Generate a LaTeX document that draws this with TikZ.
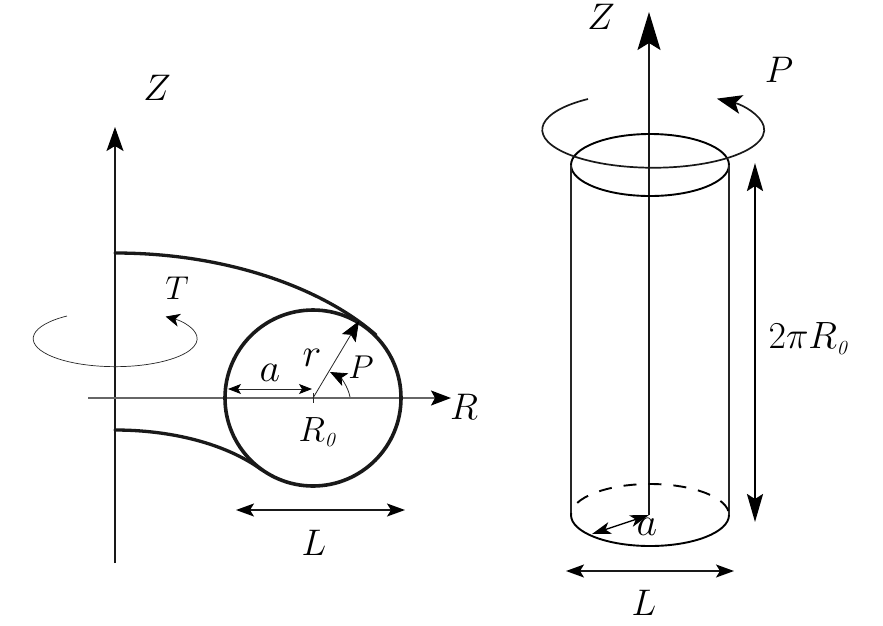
\RequirePackage{fix-cm}
\documentclass[tikz,border=0pt]{standalone}
\usetikzlibrary{arrows.meta}
\newcommand{\lbl}[1]{\fontsize{#1}{#1}\selectfont}
\newcommand{\subzero}{\hbox{\lbl{20}\itshape 0}}
\tikzset{
  thinline/.style={line width=0.8pt,black!85},
  medline/.style={line width=1.4pt,black!90},
  thickline/.style={line width=3.3pt,black!90,line cap=round},
  big/.style={font=\lbl{37}},
  mid/.style={font=\lbl{40}},
  small/.style={font=\lbl{33}}
}
\begin{document}
\begin{tikzpicture}[x=1pt,y=1pt]
\useasboundingbox (0,0) rectangle (883,-625);
\fill[white] (0,0) rectangle (883,-625);
% left figure coordinates
\coordinate (zb) at (115,-563);
\coordinate (zt) at (115,-127);
\coordinate (rl) at (88,-398);
\coordinate (rr) at (451,-398);
\coordinate (c) at (313,-398);
\coordinate (ct) at (313,-393);
\coordinate (cb) at (313,-403);
\coordinate (al) at (228,-389);
\coordinate (ar) at (312,-389);
\coordinate (rtip) at (359,-321);
\coordinate (ll) at (236,-510);
\coordinate (lr) at (405,-510);
% left figure
\draw[medline,-{Stealth[length=24pt,width=17pt,inset=5pt,color=black]}] (zb) -- (zt);
\draw[line width=1.5pt,black!60,-{Stealth[length=20pt,width=15pt,inset=4pt,color=black]}] (rl) -- (rr);
\draw[thickline,line width=3.6pt] (c) circle[radius=88];
\draw[thickline] (115,-253) .. controls (230,-253) and (325,-290) .. (376,-335);
\draw[thickline] (115,-430) .. controls (170,-430) and (225,-443) .. (262,-470);
\draw[thinline,line width=0.7pt,-{Stealth[length=14pt,width=13pt,inset=4pt,color=black]}] (67,-316) arc[start angle=126,end angle=412,x radius=82,y radius=28];
\draw[thinline,<->,>={Stealth[length=13pt,width=10pt,inset=3pt,color=black]}] (al) -- (ar);
\draw[thinline] (ct) -- (cb);
\draw[thinline,-{Stealth[length=20pt,width=16pt,inset=4pt,color=black]}] (c) -- (rtip);
\draw[thinline,-{Stealth[length=17pt,width=14pt,inset=4pt,color=black]}] (350,-397) .. controls (348,-386) and (340,-377) .. (330,-372);
\draw[medline,<->,>={Stealth[length=18pt,width=13pt,inset=4pt,color=black]}] (ll) -- (lr);
\node[big] (zl) at (157,-88) {$Z$};
\node[small] (tl) at (177,-288) {$T$};
\node[mid] (al2) at (270,-373) {$a$};
\node[mid] (rlab) at (312,-358) {$r$};
\node[small] (pl) at (361,-367) {$P$};
\node[font=\lbl{35}] (r0) at (317,-432) {$R_{\subzero}$};
\node[big] (rname) at (464,-407) {$R$};
\node[big] (lname) at (314,-543) {$L$};
% right figure coordinates
\coordinate (zb2) at (649,-515);
\coordinate (zt2) at (649,-12);
\coordinate (tc) at (650,-165);
\coordinate (tl2) at (571,-165);
\coordinate (tr2) at (729,-165);
\coordinate (bl2) at (571,-515);
\coordinate (br2) at (729,-515);
\coordinate (dt) at (755,-163);
\coordinate (db) at (755,-522);
\coordinate (at) at (592,-534);
\coordinate (ll2) at (566,-571);
\coordinate (lr2) at (734,-571);
% right figure
\draw[medline,-{Stealth[length=38pt,width=23pt,inset=7pt,color=black]}] (zb2) -- (zt2);
\draw[line width=1.9pt] (tc) ellipse[x radius=79,y radius=31];
\draw[thinline,line width=1.2pt] (tl2) -- (bl2);
\draw[thinline,line width=1.2pt] (tr2) -- (br2);
\draw[line width=1.9pt] (bl2) arc[start angle=180,end angle=360,x radius=79,y radius=31];
\draw[line width=1.9pt,dash pattern=on 13pt off 12pt,dash phase=-14pt] (bl2) arc[start angle=180,end angle=0,x radius=79,y radius=31];
\draw[line width=1.7pt,black!90,-{Stealth[length=25pt,width=19pt,inset=6pt,color=black]}] (588,-99) arc[start angle=126,end angle=415,x radius=111,y radius=38];
\draw[line width=2.4pt,<->,>={Stealth[length=28pt,width=16pt,inset=5pt]}] (dt) -- (db);
\draw[line width=1.3pt,<->,>={Stealth[length=19pt,width=12pt,inset=5pt]}] (at) -- (zb2);
\draw[medline,<->,>={Stealth[length=18pt,width=13pt,inset=4pt,color=black]}] (ll2) -- (lr2);
\node[big] (zr) at (601,-17) {$Z$};
\node[big] (pr) at (779,-70) {$P$};
\node[font=\lbl{38}] (dim) at (808,-339) {$2\pi R_{\subzero}$};
\node[mid] (ar2) at (647,-527) {$a$};
\node[big] (lr3) at (644,-603) {$L$};
\end{tikzpicture}
\end{document}
